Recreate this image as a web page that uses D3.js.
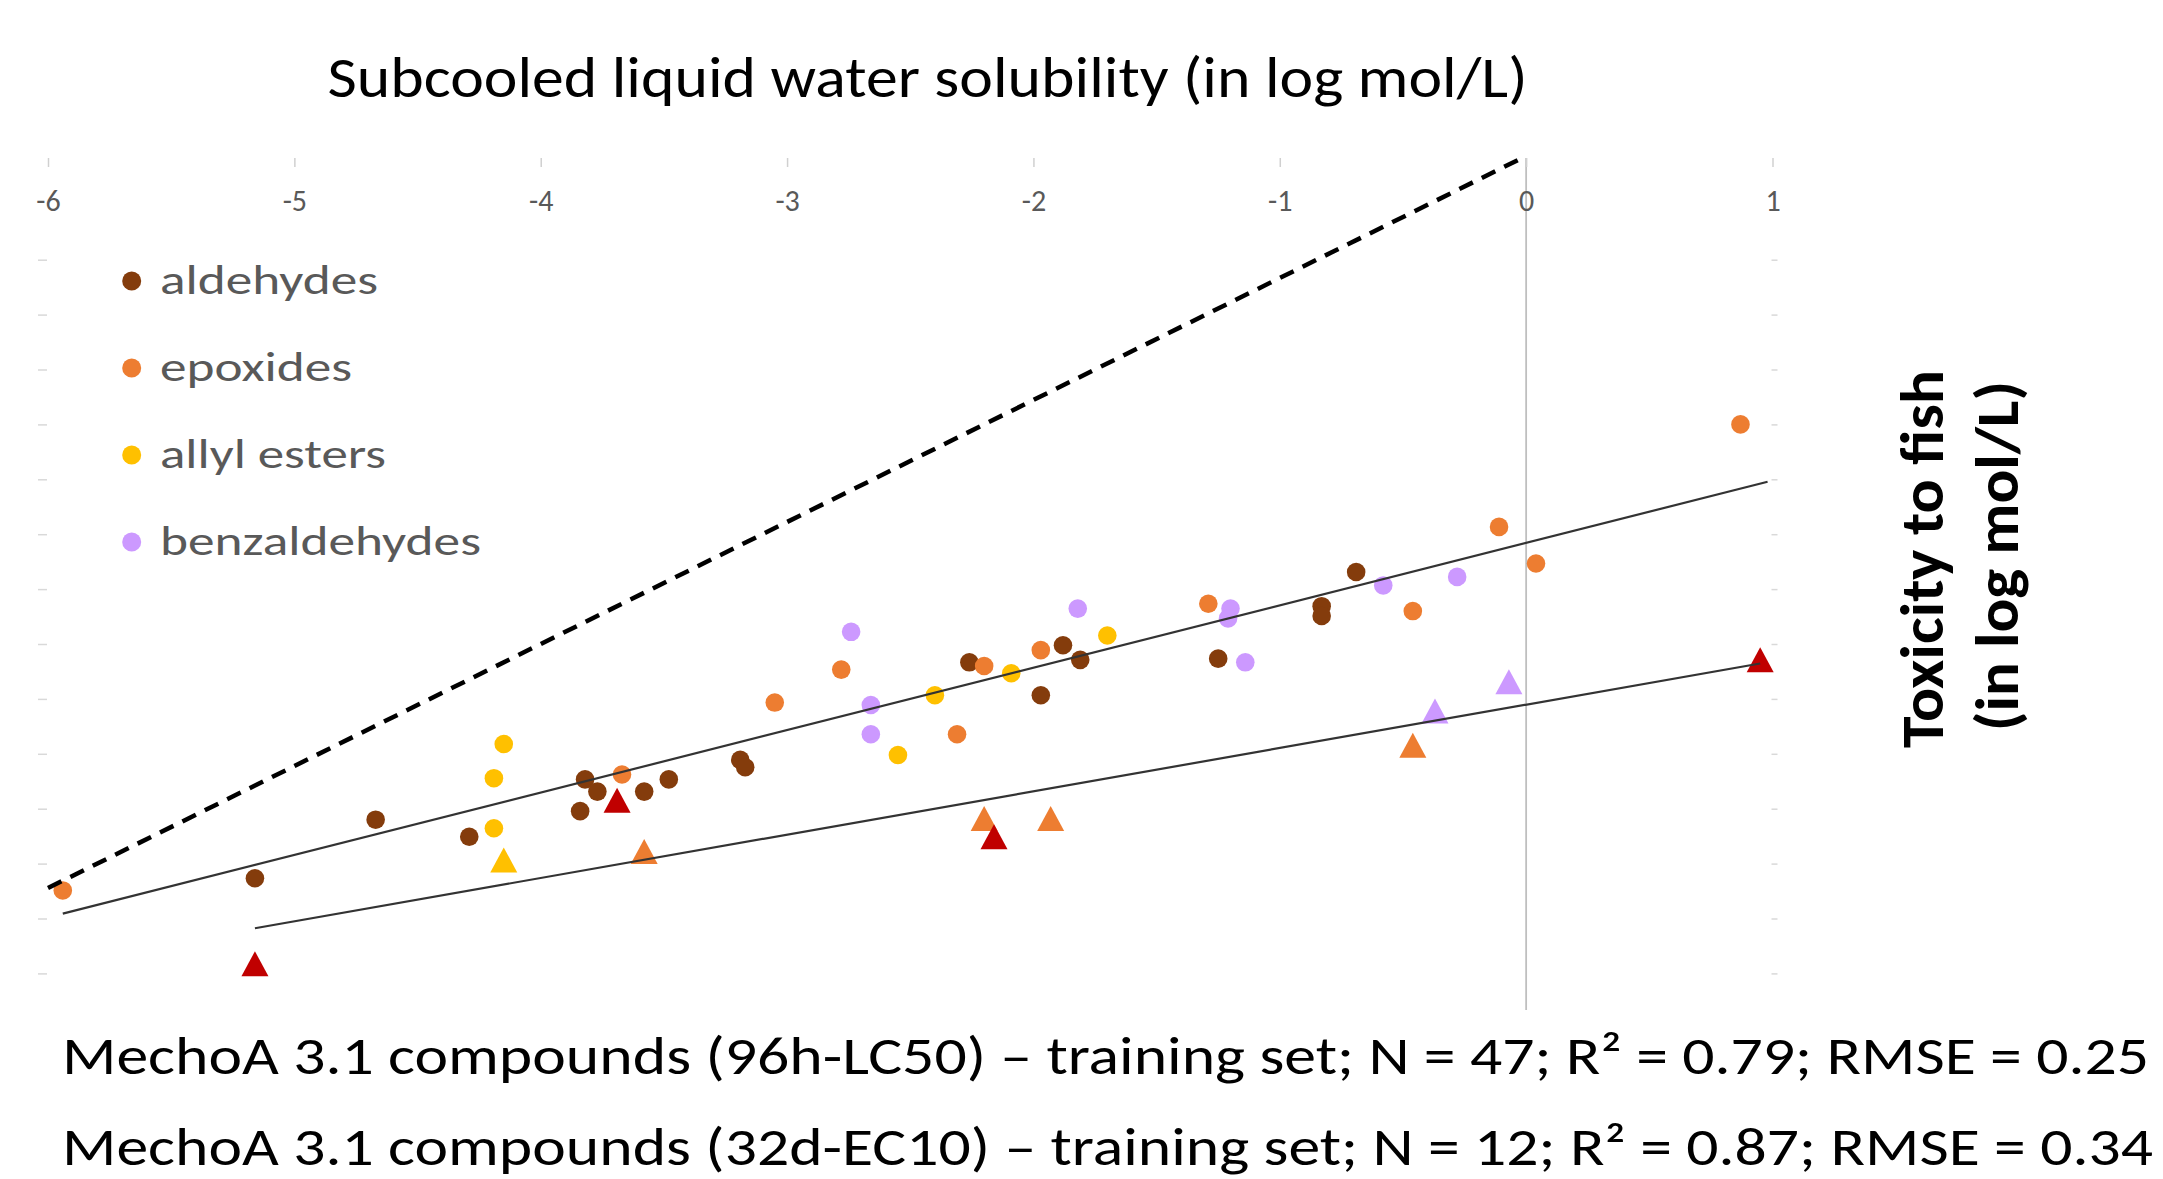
<!DOCTYPE html>
<html>
<head>
<meta charset="utf-8">
<script src="https://cdn.jsdelivr.net/npm/d3@7"></script>
<style>
  body { margin: 0; background: #fff; }
  svg { display: block; font-family: Carlito, "Open Sans", sans-serif; }
</style>
</head>
<body>
<svg width="2163" height="1179"></svg>
<script>
// categories and colours
const categories = ["aldehydes", "epoxides", "allyl esters", "benzaldehydes"];
const circleColors = ["#843C0C", "#ED7D31", "#FFC000", "#CC99FF"];
const triangleColors = ["#C00000", "#ED7D31", "#FFC000", "#CC99FF"];

// 96h-LC50 (circles): solubility x, toxicity y
const aldehydesX = [-5.16, -4.67, -4.29, -3.84, -3.82, -3.77, -3.58, -3.48, -3.19, -3.17, -2.26, -1.97, -1.88, -1.81, -1.25, -0.83, -0.83, -0.69];
const aldehydesY = [-5.92, -5.44, -5.58, -5.37, -5.11, -5.21, -5.21, -5.11, -4.95, -5.01, -4.15, -4.42, -4.01, -4.13, -4.12, -3.69, -3.77, -3.41];
const epoxidesX = [-5.94, -3.67, -3.05, -2.78, -2.31, -2.20, -1.97, -1.29, -0.46, -0.11, 0.04, 0.87];
const epoxidesY = [-6.02, -5.07, -4.48, -4.21, -4.74, -4.18, -4.05, -3.67, -3.73, -3.04, -3.34, -2.20];
const allylEstersX = [-4.15, -4.19, -4.19, -2.55, -2.40, -2.09, -1.70];
const allylEstersY = [-4.82, -5.10, -5.51, -4.91, -4.42, -4.24, -3.93];
const benzaldehydesX = [-2.74, -2.66, -2.66, -1.82, -1.20, -1.21, -1.14, -0.58, -0.28];
const benzaldehydesY = [-3.90, -4.50, -4.74, -3.71, -3.71, -3.79, -4.15, -3.52, -3.45];

// 32d-EC10 (triangles)
const triAldehydesX = [-5.16, -3.69, -2.16, 0.95];
const triAldehydesY = [-6.62, -5.28, -5.58, -4.13];
const triEpoxidesX = [-3.58, -2.20, -1.93, -0.46];
const triEpoxidesY = [-5.70, -5.43, -5.43, -4.83];
const triAllylEstersX = [-4.15];
const triAllylEstersY = [-5.77];
const triBenzaldehydesX = [-0.37, -0.07];
const triBenzaldehydesY = [-4.55, -4.31];

// lines: 1:1 line and the two fits
const oneToOneX = [-6, 0];
const oneToOneY = [-6, 0];
const fitLC50X = [-5.94, 0.98];
const fitLC50Y = [-6.21, -2.67];
const fitEC10X = [-5.16, 0.95];
const fitEC10Y = [-6.33, -4.16];

// axes
const xTicks = [-6, -5, -4, -3, -2, -1, 0, 1];
const yTicks = [-0.85, -1.30, -1.75, -2.20, -2.65, -3.10, -3.55, -4.00, -4.45, -4.90, -5.35, -5.80, -6.25, -6.70];

const titleText = "Subcooled liquid water solubility (in log mol/L)";
const yTitle = ["Toxicity to fish", "(in log mol/L)"];
const notes = [
    "MechoA 3.1 compounds (96h-LC50) \u2013 training set; N = 47; R\u00B2 = 0.79; RMSE = 0.25",
    "MechoA 3.1 compounds (32d-EC10) \u2013 training set; N = 12; R\u00B2 = 0.87; RMSE = 0.34"
];

const svg = d3.select("svg");

const x = d3.scaleLinear().domain([-6, 1]).range([48, 1772.5]);
const y = d3.scaleLinear().domain([-7, 0]).range([1010, 156]);

const zip = (xs, ys) => xs.map((v, i) => ({ x: v, y: ys[i] }));
const circleSets = [
    zip(aldehydesX, aldehydesY),
    zip(epoxidesX, epoxidesY),
    zip(allylEstersX, allylEstersY),
    zip(benzaldehydesX, benzaldehydesY)
];
const triangleSets = [
    zip(triAldehydesX, triAldehydesY),
    zip(triEpoxidesX, triEpoxidesY),
    zip(triAllylEstersX, triAllylEstersY),
    zip(triBenzaldehydesX, triBenzaldehydesY)
];

// vertical axis line at x = 0
svg.append("line")
    .attr("x1", x(0)).attr("x2", x(0))
    .attr("y1", y(0) + 2).attr("y2", y(-7))
    .attr("stroke", "#BFBFBF")
    .attr("stroke-width", 1.8);

// top axis (ticks + labels)
const xAxis = svg.append("g")
    .attr("transform", `translate(0, ${y(0) + 2})`)
    .call(d3.axisBottom(x).tickValues(xTicks).tickSize(9).tickPadding(23).tickFormat(d => String(d)));
xAxis.select(".domain").remove();
xAxis.selectAll("line").attr("stroke", "#D0D0D0").attr("stroke-width", 1.5);
xAxis.selectAll("text")
    .attr("fill", "#595959")
    .style("font-size", "30px")
    .style("font-family", "Carlito, 'Open Sans', sans-serif");

// side tick stubs
const leftAxis = svg.append("g")
    .attr("transform", `translate(${x(-6) - 1}, 0)`)
    .call(d3.axisLeft(y).tickValues(yTicks).tickSize(9).tickFormat(""));
const rightAxis = svg.append("g")
    .attr("transform", `translate(${x(1) - 1}, 0)`)
    .call(d3.axisRight(y).tickValues(yTicks).tickSize(6).tickFormat(""));
[leftAxis, rightAxis].forEach(a => {
    a.select(".domain").remove();
    a.selectAll("line").attr("stroke", "#D9D9D9").attr("stroke-width", 1.5);
});

// circles
circleSets.forEach((pts, i) => {
    svg.append("g").selectAll("circle")
        .data(pts)
        .enter()
        .append("circle")
        .attr("cx", d => x(d.x))
        .attr("cy", d => y(d.y))
        .attr("r", 9.3)
        .attr("fill", circleColors[i]);
});

// triangles (centred on their box, like Excel markers)
const triW = 27, triH = 25;
const triPath = `M0,${-triH / 2}L${triW / 2},${triH / 2}L${-triW / 2},${triH / 2}Z`;
[1, 2, 3, 0].forEach(i => {
    svg.append("g").selectAll("path")
        .data(triangleSets[i])
        .enter()
        .append("path")
        .attr("d", triPath)
        .attr("transform", d => `translate(${x(d.x)},${y(d.y)})`)
        .attr("fill", triangleColors[i]);
});

// lines
const line = d3.line().x(d => x(d.x)).y(d => y(d.y));
svg.append("path")
    .datum(zip(fitLC50X, fitLC50Y))
    .attr("d", line)
    .attr("fill", "none")
    .attr("stroke", "#333")
    .attr("stroke-width", 2.2);
svg.append("path")
    .datum(zip(fitEC10X, fitEC10Y))
    .attr("d", line)
    .attr("fill", "none")
    .attr("stroke", "#333")
    .attr("stroke-width", 2.2);
svg.append("path")
    .datum(zip(oneToOneX, oneToOneY))
    .attr("d", line)
    .attr("fill", "none")
    .attr("stroke", "#000")
    .attr("stroke-width", 4.5)
    .attr("stroke-dasharray", "15,10");

// legend
const legendLengths = [218, 192, 226, 321];
const legend = svg.append("g");
categories.forEach((c, i) => {
    const base = 294 + i * 87;
    legend.append("circle")
        .attr("cx", 131.7)
        .attr("cy", base - 13)
        .attr("r", 9.5)
        .attr("fill", circleColors[i]);
    legend.append("text")
        .attr("x", 160)
        .attr("y", base)
        .attr("fill", "#595959")
        .attr("textLength", legendLengths[i])
        .attr("lengthAdjust", "spacingAndGlyphs")
        .style("font-size", "40px")
        .text(c);
});

// title
svg.append("text")
    .attr("x", 327.5)
    .attr("y", 97)
    .attr("fill", "#000")
    .attr("textLength", 1200)
    .attr("lengthAdjust", "spacingAndGlyphs")
    .style("font-size", "57px")
    .text(titleText);

// right-hand axis title
const yTitlePos = [{ bx: 1943, cy: 559, len: 378 }, { bx: 2018, cy: 556, len: 350 }];
yTitle.forEach((t, i) => {
    svg.append("text")
        .attr("transform", `translate(${yTitlePos[i].bx},${yTitlePos[i].cy}) rotate(-90)`)
        .attr("text-anchor", "middle")
        .attr("fill", "#000")
        .attr("font-weight", "bold")
        .attr("textLength", yTitlePos[i].len)
        .attr("lengthAdjust", "spacingAndGlyphs")
        .style("font-size", "60px")
        .text(t);
});

// notes below the chart
const noteLengths = [2087, 2091];
notes.forEach((t, i) => {
    svg.append("text")
        .attr("x", 62)
        .attr("y", 1074 + i * 91)
        .attr("fill", "#000")
        .attr("textLength", noteLengths[i])
        .attr("lengthAdjust", "spacingAndGlyphs")
        .style("font-size", "54px")
        .text(t);
});
</script>
</body>
</html>
